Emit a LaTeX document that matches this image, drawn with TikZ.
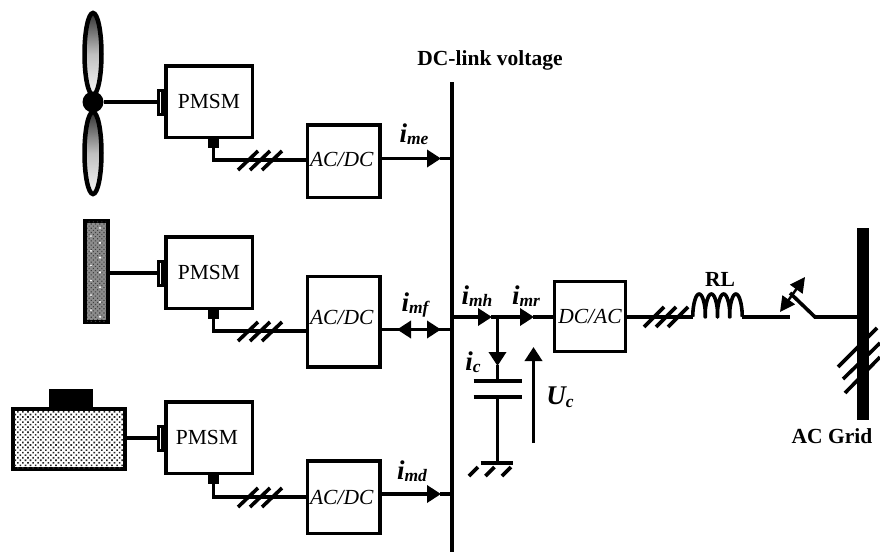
\documentclass[tikz,border=0pt]{standalone}
\usepackage{fontspec}
\setmainfont{Liberation Serif}
\usetikzlibrary{arrows.meta,patterns.meta,calc}
\tikzset{
	wire/.style={line width=3.6pt},
	block/.style={draw,line width=3.5pt,inner sep=0pt},
	flow/.style={wire,-{Triangle[length=14pt,width=17pt]},shorten >=-1pt},
	boldlab/.style={font=\bfseries\fontsize{21.5}{24}\selectfont,inner sep=0pt}
}
\newcommand{\currlab}[2]{\bfseries\itshape\fontsize{27}{28}\selectfont #1\raisebox{-2.5pt}{\fontsize{17.5}{18}\selectfont #2}}

\begin{document}
\begin{tikzpicture}[x=1pt,y=-1pt]
	\useasboundingbox (0,0) rectangle (880,557);

	% DC bus
	\coordinate (bustop) at (452,82);
	\coordinate (busbot) at (452,552);
	\draw[wire] (bustop) -- (busbot);
	\node[boldlab] (buslabel) at (490,60) {DC-link voltage};

	% Wind turbine
	\draw[line width=4.5pt,top color=black!80,bottom color=black!3,middle color=black!25] (93,54) ellipse (8.5 and 41);
	\draw[line width=4.5pt,top color=black!80,bottom color=black!3,middle color=black!25] (93,153) ellipse (8.5 and 41);
	\node[fill,circle,inner sep=0pt,minimum size=21pt] (hub) at (93,102) {};

	% Storage panel
	\node[draw,line width=4.5pt,fill=black!45,minimum width=23pt,minimum height=101pt,inner sep=0pt] (panel) at (96.5,271.5) {};
	\fill[pattern={Dots[radius=.8pt,distance=3pt,angle=45]},pattern color=black!75] (87,221.5) rectangle (106,321.5);
	\foreach \j in {0,...,6} {
			\fill[white] (100,{228+\j*14.8}) circle (1.2pt);
			\fill[white] (91,{236+\j*14.8}) circle (1pt);
		}

	% Diesel engine
	\node[draw,line width=4.5pt,fill=white,minimum width=112pt,minimum height=60pt,inner sep=0pt] (engine) at (69,439) {};
	\fill[pattern={Dots[radius=1.15pt,distance=3.6pt,angle=45]},pattern color=black!85] (14,410) rectangle (124,468);
	\node[fill,minimum width=44pt,minimum height=18pt,inner sep=0pt] (engtop) at (71,398) {};

	% The three generator branches
	\foreach \k/\ym/\yw/\ya/\ha/\yt/\xt in {1/101.5/160/161/72.5/159/0,2/272.5/331/321.5/90.5/317/0,3/437.5/497/497/72.5/497/-2} {
			\node[block,minimum width=86.5pt,minimum height=71.5pt] (pmsm\k) at (209,\ym) {};
			\node[font=\fontsize{21.5}{24}\selectfont,inner sep=0pt] (pmsmtext\k) at ({209+\xt},\ym) {PMSM};
			\node[draw,line width=3pt,fill=white,minimum width=4pt,minimum height=24pt,inner sep=0pt] (shaft\k) at (160,{\ym+.5}) {};
			\node[fill,minimum width=11pt,minimum height=9pt,inner sep=0pt] (stub\k) at (213.5,{\ym+41.5}) {};
			\node[block,minimum width=72.5pt,minimum height=\ha pt] (acdc\k) at (343.7,\ya) {};
			\node[font=\itshape\fontsize{21.5}{24}\selectfont,inner sep=0pt] (acdctext\k) at (341.7,\yt) {AC/DC};
			\coordinate (wire\k) at (acdc\k.west |- 0,\yw);
			\draw[wire] (stub\k.south) |- (wire\k);
			\foreach \s in {0,12,24} {
					\draw[wire] ({238+\s},{\yw+10}) -- ({258+\s},{\yw-9});
				}
		}

	% Shafts of the three machines
	\draw[wire] (hub) -- (hub -| shaft1.west);
	\draw[wire] (panel.east |- shaft2) -- (shaft2);
	\draw[wire] (engine.east |- shaft3) -- (shaft3);

	% Currents into the bus
	\coordinate (head1) at (440,158.5);
	\coordinate (head3) at (440,494);
	\draw[flow] (acdc1.east |- head1) -- (head1);
	\draw[wire] (head1) -- (bustop |- head1);
	\draw[flow] (acdc3.east |- head3) -- (head3);
	\draw[wire] (head3) -- (bustop |- head3);
	\coordinate (busmf) at (452,329.5);
	\coordinate (tipmfl) at (398,329.5);
	\coordinate (tipmfr) at (440,329.5);
	\draw[flow] (busmf) -- (tipmfl);
	\draw[flow] (acdc2.east |- busmf) -- (tipmfr);
	\node (imelab) at (414,134) {\currlab{i}{me}};
	\node (imflab) at (415,305) {\currlab{i}{mf}};
	\node (imdlab) at (412,471) {\currlab{i}{md}};

	% Inverter side
	\node[block,minimum width=71pt,minimum height=70pt,font=\itshape\fontsize{21.5}{24}\selectfont] (dcac) at (590,316.5) {DC/AC};
	\coordinate (busout) at (452,317);
	\coordinate (headmh) at (491,317);
	\coordinate (junction) at (497.5,317);
	\coordinate (headmr) at (533,317);
	\draw[flow] (busout) -- (headmh);
	\draw[wire] (headmh) -- (junction);
	\draw[flow] (junction) -- (headmr);
	\draw[wire] (headmr) -- (dcac.west |- headmr);
	\node (imhlab) at (477,296) {\currlab{i}{mh}};
	\node (imrlab) at (526,296) {\currlab{i}{mr}};

	% Capacitor
	\coordinate (capa) at (497.5,381);
	\coordinate (capb) at (497.5,397);
	\coordinate (gnd) at (497.5,463);
	\coordinate (headc) at (497.5,365);
	\draw[flow] (junction) -- (headc);
	\draw[wire] (headc) -- (capa);
	\draw[wire] ($(capa)+(-24,0)$) -- ($(capa)+(24,0)$);
	\draw[wire] ($(capb)+(-24,0)$) -- ($(capb)+(24,0)$);
	\draw[wire] (capb) -- (gnd);
	\draw[wire] ($(gnd)+(-17,0)$) -- ($(gnd)+(15,0)$);
	\foreach \s in {0,16.5,33} {
			\draw[wire] ({469+\s},476) -- ({478+\s},467);
		}
	\node (iclab) at (473,362) {\currlab{i}{c}};
	\coordinate (ucbot) at (533.5,443);
	\coordinate (uctop) at (533.5,348);
	\draw[flow] (ucbot) -- (uctop);
	\node (uclab) at (560,397) {\currlab{U}{c}};

	% Line to the grid
	\coordinate (rlin) at (693,317);
	\coordinate (rlout) at (742,317);
	\draw[wire] (dcac.east |- rlin) -- (rlin);
	\foreach \s in {0,12,24} {
			\draw[wire] ({644+\s},327) -- ({664+\s},307);
		}
	\draw[wire,line join=round] plot[domain=0:1440,samples=160] ({693+0.03403*\x-2.4*sin(\x)},{317-11.5*(1-cos(\x))});
	\node[boldlab] (rllab) at (720,279) {RL};

	% Breaker
	\coordinate (swa) at (790,317);
	\coordinate (swb) at (790,293);
	\coordinate (swc) at (815,317);
	\coordinate (arra) at (780,312);
	\coordinate (arrb) at (805,277);
	\node[fill,minimum width=12pt,minimum height=192pt,inner sep=0pt] (grid) at (863,324) {};
	\draw[wire] (rlout) -- (swa);
	\draw[wire] (swb) -- (swc) -- (grid.west |- swc);
	\draw[line width=2.5pt,{Triangle[length=15pt,width=15pt]}-{Triangle[length=15pt,width=15pt]}] (arra) -- (arrb);

	% Grid
	\draw[wire] (838,367) -- (877,328);
	\draw[wire] (843,379) -- (880,343);
	\draw[wire] (845,393) -- (880,357);
	\node[boldlab] (gridlab) at (832,436) {AC Grid};
\end{tikzpicture}
\end{document}
